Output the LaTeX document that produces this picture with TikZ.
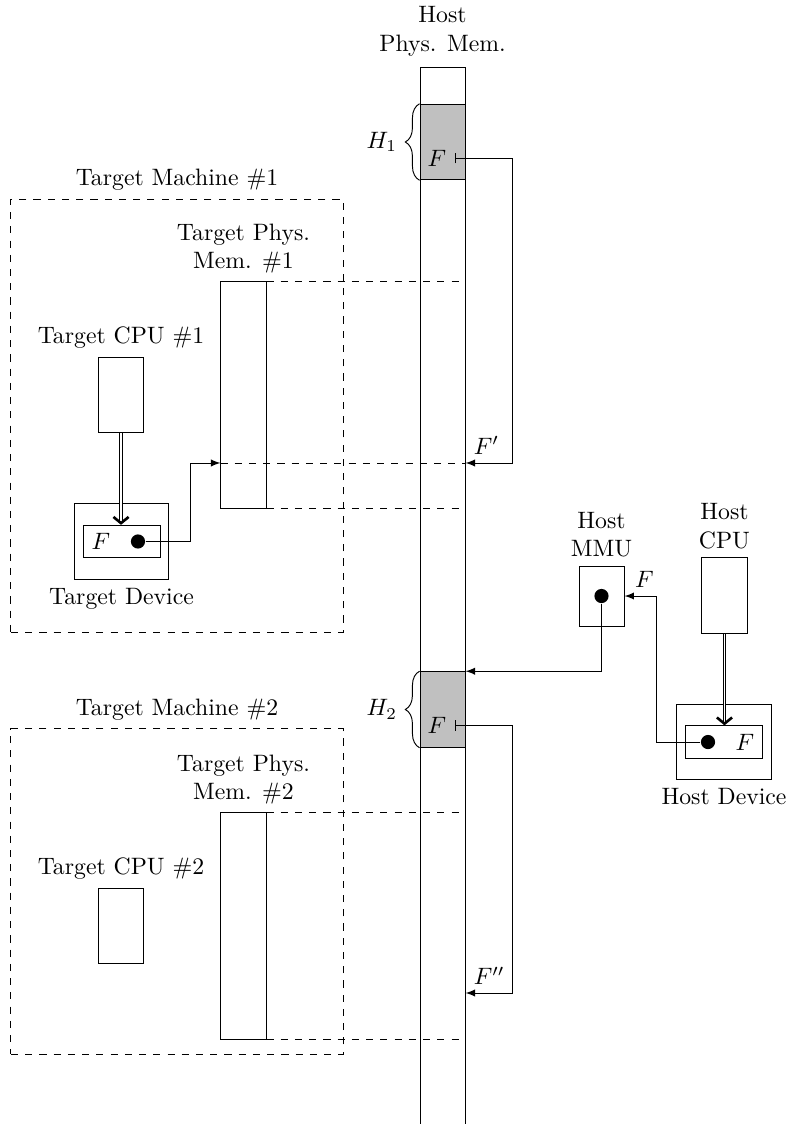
\documentclass[tikz,border=0pt]{standalone}
\usepackage{amsmath}
\usepackage{tikz}
\usetikzlibrary{arrows.meta,calc,decorations.pathreplacing,positioning}
\definecolor{BlockGray}{HTML}{C0C0C0}

\begin{document}
\begin{tikzpicture}[
    box/.style={draw,inner sep=0pt},
    cpubox/.style={box,minimum width=0.67cm,minimum height=1.12cm},
    memcol/.style={box,minimum width=0.667cm,minimum height=3.35cm},
    hblock/.style={box,fill=BlockGray,minimum width=0.667cm,minimum height=1.12cm},
    devout/.style={box,minimum width=1.4cm,minimum height=1.12cm},
    devin/.style={box,minimum width=1.14cm,minimum height=0.48cm},
    machine/.style={draw,dashed,inner sep=0pt,minimum width=4.92cm},
    dot/.style={circle,fill,inner sep=0pt,minimum size=2.1mm},
    txt/.style={align=center},
    link/.style={-latex},
    ptr/.style={|-latex},
    bus/.style={double,-{Straight Barb[line width=1.1pt,length=2.6pt,width=6.4pt]}},
    guide/.style={dashed},
  ]
  \useasboundingbox (0,0) rectangle (11.748,-16.652);
  \clip (0,0) rectangle (11.748,-16.652);

  % host physical memory
  \node[box,minimum width=0.667cm,minimum height=16cm,anchor=north] (hostmem) at (6.556,-0.993) {};
  \node[txt,above=1pt of hostmem] (hostmemlbl) {Host\\Phys. Mem.};
  \node[hblock] (hA) at (6.556,-2.104) {};
  \node[hblock] (hB) at (6.556,-10.511) {};
  \node (fA) at (6.474,-2.341) {$F$};
  \node (fB) at (6.474,-10.748) {$F$};
  \draw[decorate,decoration={brace,amplitude=6pt}] (hA.south west) -- (hA.north west)
    node[midway,left=6pt] (hAlbl) {$H_1$};
  \draw[decorate,decoration={brace,amplitude=6pt}] (hB.south west) -- (hB.north west)
    node[midway,left=6pt] (hBlbl) {$H_2$};

  % target machine #1
  \node[machine,minimum height=6.415cm] (machA) at (2.622,-6.156) {};
  \node[above=0pt of machA] (machAlbl) {Target Machine \#1};
  \node[memcol] (tpmA) at (3.607,-5.852) {};
  \node[txt,above=0pt of tpmA] (tpmAlbl) {Target Phys.\\Mem. \#1};
  \node[cpubox] (cpuA) at (1.793,-5.852) {};
  \node[above=0pt of cpuA] (cpuAlbl) {Target CPU \#1};
  \node[devout] (devA) at (1.8,-8.022) {};
  \node[devin] (devinA) at (1.8,-8.022) {};
  \node (fdevA) at (1.496,-8.022) {$F$};
  \node[dot] (dotA) at (2.044,-8.022) {};
  \node[below=0pt of devA] (devAlbl) {Target Device};

  % target machine #2
  \node[machine,minimum height=4.815cm] (machB) at (2.622,-13.207) {};
  \node[above=0pt of machB] (machBlbl) {Target Machine \#2};
  \node[memcol] (tpmB) at (3.607,-13.719) {};
  \node[txt,above=0pt of tpmB] (tpmBlbl) {Target Phys.\\Mem. \#2};
  \node[cpubox] (cpuB) at (1.793,-13.719) {};
  \node[above=0pt of cpuB] (cpuBlbl) {Target CPU \#2};

  % host side
  \node[box,minimum width=0.667cm,minimum height=0.89cm] (mmu) at (8.911,-8.830) {};
  \node[txt,above=0pt of mmu] (mmulbl) {Host\\MMU};
  \node[dot] (dotM) at (mmu) {};
  \node[cpubox] (hcpu) at (10.733,-8.822) {};
  \node[txt,above=0pt of hcpu] (hcpulbl) {Host\\CPU};
  \node[devout] (hdev) at (10.726,-10.993) {};
  \node[devin] (hdevin) at (10.726,-10.993) {};
  \node[dot] (hdot) at (10.489,-10.993) {};
  \node (fhdev) at (11.037,-10.993) {$F$};
  \node[below=0pt of hdev] (hdevlbl) {Host Device};

  % mappings into host memory
  \coordinate (inA) at (tpmA.west |- 0,-6.859);
  \coordinate (tipA) at (inA -| hostmem.east);
  \coordinate (tipB) at (hostmem.east |- 0,-14.711);
  \coordinate (bendA) at (2.815,-6.859);
  \coordinate (loopA) at (7.585,-6.859);
  \coordinate (loopB) at (7.585,-14.711);
  \coordinate (loopM) at (9.719,-8.830);

  \draw[guide] (tpmA.north east) -- (tpmA.north east -| hostmem.east);
  \draw[guide] (tpmA.south east) -- (tpmA.south east -| hostmem.east);
  \draw[guide] (inA) -- (tipA);
  \draw[guide] (tpmB.north east) -- (tpmB.north east -| hostmem.east);
  \draw[guide] (tpmB.south east) -- (tpmB.south east -| hostmem.east);

  \draw[bus] (cpuA.south) -- (cpuA.south |- devinA.north);
  \draw[bus] (hcpu.south) -- (hcpu.south |- hdevin.north);
  \draw[link] (dotA.east) -| (bendA) -- (inA);
  \draw[ptr] (fA.east) -| (loopA) -- (tipA);
  \node[above right=0pt of tipA] (fpA) {$F'$};
  \draw[ptr] (fB.east) -| (loopB) -- (tipB);
  \node[above right=0pt of tipB] (fpB) {$F''$};
  \draw[link] (dotM.south) |- (hB.north -| hostmem.east);
  \draw[link] (hdot.west) -| (loopM) -- (mmu.east);
  \node[above right=0pt and 1pt of mmu.east] (fmmu) {$F$};
\end{tikzpicture}
\end{document}
